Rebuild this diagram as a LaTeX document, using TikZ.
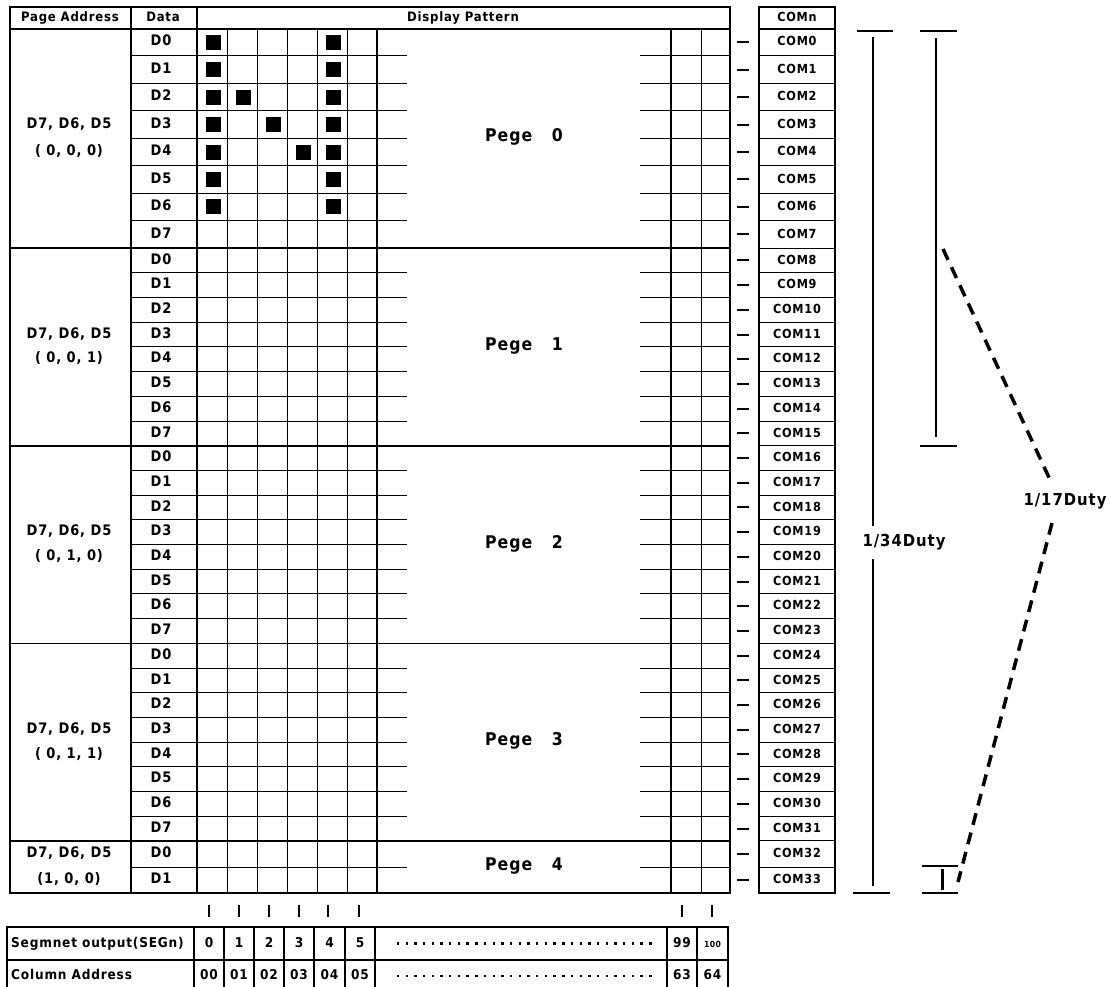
\documentclass[tikz,border=0pt]{standalone}
\usepackage{fontspec}
\setmainfont{DejaVu Sans Condensed}[LetterSpace=6]
\tikzset{
  declare function={ry(\i)=(\i<=8) ? 28.5+27.45*\i : ((\i<=32) ? 248.1+24.7*(\i-8) : 841+26*(\i-32));},
  bordo/.style={line width=2pt},
  riga/.style={line width=1pt},
  pagina/.style={line width=1.6pt},
  trattino/.style={line width=2pt},
  duty/.style={line width=1.5pt},
  tratteggio/.style={line width=3.5pt, dash pattern=on 12pt off 8pt},
  pixel/.style={fill=black},
  base/.style={inner sep=0pt, text height=0.73em, text depth=0pt},
  hdrtxt/.style={base, font={\fontsize{13pt}{14pt}\selectfont\bfseries}},
  datatxt/.style={base, font={\fontsize{14.5pt}{15pt}\selectfont\bfseries}},
  comtxt/.style={base, font={\fontsize{12.5pt}{13pt}\selectfont\bfseries}},
  pegetxt/.style={base, font={\fontsize{17.5pt}{18pt}\selectfont\bfseries}},
  dutytxt/.style={base, font={\fontsize{16.5pt}{17pt}\selectfont\bfseries}},
  segtxt/.style={base, font={\fontsize{13.5pt}{14pt}\selectfont\bfseries}},
  tinytxt/.style={base, font={\fontsize{8.5pt}{9pt}\selectfont\bfseries}},
}
\begin{document}
\begin{tikzpicture}[x=1pt,y=-1pt]
\useasboundingbox (0,0) rectangle (1119,986);

%intestazione
\node[hdrtxt] (hpage) at (70,18) {Page Address};
\node[hdrtxt] (hdata) at (163,18) {Data};
\node[hdrtxt] (hdisp) at (463,18) {Display Pattern};

%righe interne
\foreach \i in {1,...,7,9,10,...,15,17,18,...,23,25,26,...,31,33}{
  \draw[riga] (131,{ry(\i)}) -- (407,{ry(\i)});
  \draw[riga] (640,{ry(\i)}) -- (730,{ry(\i)});
}

%righe pagina
\foreach \i in {8,16,24,32}
  \draw[pagina] (10,{ry(\i)}) -- (730,{ry(\i)});

%colonne
\foreach \x in {227,257,287,317,347,701}
  \draw[riga] (\x,28.5) -- (\x,893);
\foreach \x in {377,671}
  \draw[pagina] (\x,28.5) -- (\x,893);
\draw[bordo] (131,7) -- (131,893);
\draw[bordo] (197,7) -- (197,893);
\draw[bordo] (10,28.5) -- (730,28.5);
\draw[bordo] (10,7) rectangle (730,893);

%dati D0..D7
\foreach \i in {0,...,33}{
  \pgfmathtruncatemacro\d{mod(\i,8)}
  \node[datatxt] (d\i) at (161,{ry(\i+0.5)}) {D\d};
}

%indirizzi pagina
\node[datatxt] (pa0) at (69,{ry(3.5)}) {D7, D6, D5};
\node[datatxt] (pb0) at (69,{ry(4.5)}) {( 0, 0, 0)};
\node[datatxt] (pa1) at (69,{ry(11.5)}) {D7, D6, D5};
\node[datatxt] (pb1) at (69,{ry(12.5)}) {( 0, 0, 1)};
\node[datatxt] (pa2) at (69,{ry(19.5)}) {D7, D6, D5};
\node[datatxt] (pb2) at (69,{ry(20.5)}) {( 0, 1, 0)};
\node[datatxt] (pa3) at (69,{ry(27.5)}) {D7, D6, D5};
\node[datatxt] (pb3) at (69,{ry(28.5)}) {( 0, 1, 1)};
\node[datatxt] (pa4) at (69,{ry(32.5)}) {D7, D6, D5};
\node[datatxt] (pb4) at (69,{ry(33.5)}) {(1, 0, 0)};

%pagine
\node[pegetxt] (peg0) at (524,{ry(4)}) {Pege\ \ \ 0};
\node[pegetxt] (peg1) at (524,{ry(12)}) {Pege\ \ \ 1};
\node[pegetxt] (peg2) at (524,{ry(20)}) {Pege\ \ \ 2};
\node[pegetxt] (peg3) at (524,{ry(28)}) {Pege\ \ \ 3};
\node[pegetxt] (peg4) at (524,{ry(33)}) {Pege\ \ \ 4};

%punti accesi
\foreach \c/\r in {0/0,0/1,0/2,0/3,0/4,0/5,0/6,4/0,4/1,4/2,4/3,4/4,4/5,4/6,1/2,2/3,3/4}
  \fill[pixel] ({213.5+30*\c-7.25},{ry(\r+0.5)-7.5}) rectangle ++(14.5,15);

%COM
\draw[bordo] (759,7) rectangle (835,893);
\draw[bordo] (759,28.5) -- (835,28.5);
\foreach \i in {1,...,33}
  \draw[riga] (759,{ry(\i)}) -- (835,{ry(\i)});
\node[comtxt] (comn) at (797,18) {COMn};
\foreach \i in {0,...,33}{
  \node[comtxt] (com\i) at (797,{ry(\i+0.5)}) {COM\i};
  \draw[trattino] (737,{ry(\i+0.5)}) -- (749,{ry(\i+0.5)});
}

%1/34 duty
\node[dutytxt] (d34) at (904,543) {1/34Duty};
\draw[duty] (857,31) -- (893,31);
\draw[duty] (853,893) -- (890,893);
\draw[duty] (873,37) -- (873,526);
\draw[duty] (873,559) -- (873,886);

%1/17 duty
\node[dutytxt] (d17) at (1065,502) {1/17Duty};
\draw[duty] (920,31) -- (957,31);
\draw[duty] (936,38) -- (936,437);
\draw[duty] (920,446) -- (957,446);
\draw[duty] (922,866) -- (958,866);
\draw[duty] (922,893) -- (958,893);
\draw[line width=3pt] (942,869) -- (942,890);
\coordinate (t1) at (943,249);
\coordinate (t2) at (1052,484);
\coordinate (t3) at (1052,523);
\coordinate (t4) at (958,882);
\draw[tratteggio] (t1) -- (t2);
\draw[tratteggio] (t3) -- (t4);

%segmenti
\foreach \x in {209,239,269,299,328,359,682,712}
  \draw[line width=2pt] (\x,905) -- (\x,917);

\draw[bordo] (7,927) rectangle (728,993);
\draw[pagina] (7,960) -- (728,960);
\foreach \x in {194,224,254,284,314,345,375,667,697}
  \draw[pagina] (\x,927) -- (\x,993);
\node[segtxt, anchor=west] (seg) at (11,943.5) {Segmnet output(SEGn)};
\node[segtxt, anchor=west] (col) at (11,976) {Column Address};
\node[segtxt] (s0) at (209,943.5) {0};
\node[segtxt] (s1) at (239,943.5) {1};
\node[segtxt] (s2) at (269,943.5) {2};
\node[segtxt] (s3) at (299,943.5) {3};
\node[segtxt] (s4) at (329.5,943.5) {4};
\node[segtxt] (s5) at (360,943.5) {5};
\node[segtxt] (s99) at (682,943.5) {99};
\node[tinytxt] (s100) at (712.5,943.5) {100};
\node[segtxt] (c0) at (209,976) {00};
\node[segtxt] (c1) at (239,976) {01};
\node[segtxt] (c2) at (269,976) {02};
\node[segtxt] (c3) at (299,976) {03};
\node[segtxt] (c4) at (329.5,976) {04};
\node[segtxt] (c5) at (360,976) {05};
\node[segtxt] (c63) at (682,976) {63};
\node[segtxt] (c64) at (712.5,976) {64};
\foreach \k in {0,...,29}{
  \fill ({398+8.7*\k-1.2},942.3) rectangle ++(2.4,2.4);
  \fill ({398+8.7*\k-1.2},974.8) rectangle ++(2.4,2.4);
}

\end{tikzpicture}
\end{document}
